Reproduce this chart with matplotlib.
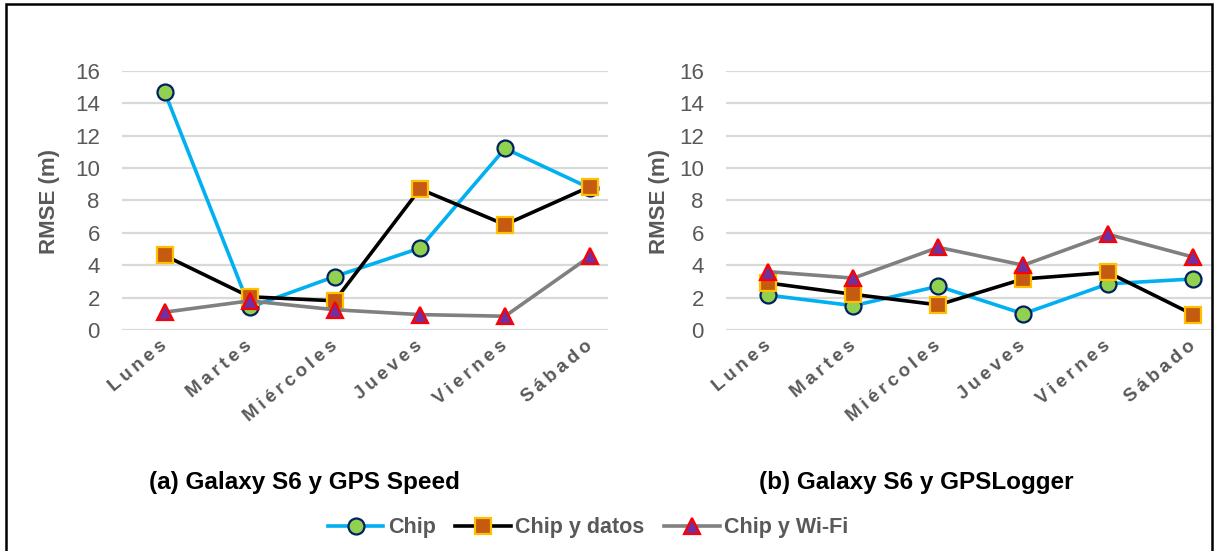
import matplotlib
matplotlib.use("Agg")
import matplotlib.pyplot as plt
from matplotlib.patches import Rectangle

plt.rcParams['font.family'] = ['Liberation Sans', 'DejaVu Sans']

TXT = "#595959"
GRID = "#D9D9D9"

days = ["Lunes", "Martes", "Miércoles", "Jueves", "Viernes", "Sábado"]
y_ticks = [0, 2, 4, 6, 8, 10, 12, 14, 16]
series_names = ["Chip", "Chip y datos", "Chip y Wi-Fi"]
panel_titles = ["(a) Galaxy S6 y GPS Speed", "(b) Galaxy S6 y GPSLogger"]

# (a) GPS Speed
speed_chip = [14.7, 1.4, 3.3, 5.05, 11.2, 8.75]
speed_datos = [4.6, 2.05, 1.8, 8.7, 6.5, 8.85]
speed_wifi = [1.1, 1.8, 1.25, 0.95, 0.85, 4.55]

# (b) GPSLogger
logger_chip = [2.15, 1.5, 2.7, 1.0, 2.85, 3.15]
logger_datos = [2.9, 2.2, 1.55, 3.15, 3.55, 0.95]
logger_wifi = [3.6, 3.2, 5.1, 4.0, 5.9, 4.5]

styles = [
    dict(color="#00B0F0", marker="o", mfc="#92D050", mec="#002060", ms=11.5),
    dict(color="black", marker="s", mfc="#C55A11", mec="#FFC000", ms=11),
    dict(color="#808080", marker="^", mfc="#7030A0", mec="#FF0000", ms=12),
]

W, H = 1214, 551
fig = plt.figure(figsize=(W / 100, H / 100), dpi=100, facecolor="white")

ax_left = fig.add_axes([122 / W, 1 - 330 / H, (608 - 122) / W, (330 - 70.7) / H])
ax_right = fig.add_axes([726 / W, 1 - 330 / H, (1211 - 726) / W, (330 - 70.7) / H])

panels = [
    (ax_left, [speed_chip, speed_datos, speed_wifi]),
    (ax_right, [logger_chip, logger_datos, logger_wifi]),
]

x = list(range(len(days)))
# letter-spaced category labels, as in the original
spaced = ["\u2009".join(d) for d in days]

for ax, data in panels:
    for vals, name, st in zip(data, series_names, styles):
        ax.plot(x, vals, color=st["color"], lw=2.6, marker=st["marker"],
                markerfacecolor=st["mfc"], markeredgecolor=st["mec"],
                markersize=st["ms"], markeredgewidth=1.6, label=name,
                clip_on=False, zorder=3)
    ax.set_ylim(0, 16)
    ax.set_xlim(-0.5, 5.21)
    ax.set_yticks(y_ticks)
    ax.set_yticklabels([str(v) for v in y_ticks], color=TXT, fontsize=16)
    ax.set_xticks(x)
    ax.set_xticklabels(spaced, rotation=40, ha="right", va="center",
                       rotation_mode="anchor", color=TXT, fontsize=13.5,
                       fontweight="bold")
    ax.tick_params(axis="both", length=0)
    ax.tick_params(axis="y", pad=16)
    ax.tick_params(axis="x", pad=10)
    ax.grid(axis="y", color=GRID, lw=1.6)
    ax.set_axisbelow(True)
    for sp in ax.spines.values():
        sp.set_visible(False)

fig.text(50 / W, 1 - 202 / H, "RMSE (m)", rotation=90, ha="center", va="center",
         color=TXT, fontsize=16, fontweight="bold")
fig.text(660 / W, 1 - 202 / H, "RMSE (m)", rotation=90, ha="center", va="center",
         color=TXT, fontsize=16, fontweight="bold")

fig.text(304 / W, 1 - 482 / H, panel_titles[0], ha="center", va="center",
         color="black", fontsize=17.5, fontweight="bold")
fig.text(916 / W, 1 - 482 / H, panel_titles[1], ha="center", va="center",
         color="black", fontsize=17.5, fontweight="bold")

handles, labels = ax_left.get_legend_handles_labels()
leg = fig.legend(handles, labels, loc="center", bbox_to_anchor=(588 / W, 1 - 528 / H),
                 ncol=3, frameon=False, handlelength=2.6, handletextpad=0.2,
                 columnspacing=0.9, prop=dict(size=15.5, weight="bold"))
for t in leg.get_texts():
    t.set_color(TXT)

border = Rectangle((5.5 / W, -0.05), (1211.5 - 5.5) / W, 1 - 4.5 / H + 0.05,
                   transform=fig.transFigure, fill=False, edgecolor="black",
                   lw=1.8, clip_on=False)
fig.patches.append(border)

fig.savefig("out.png", dpi=100, facecolor="white")
